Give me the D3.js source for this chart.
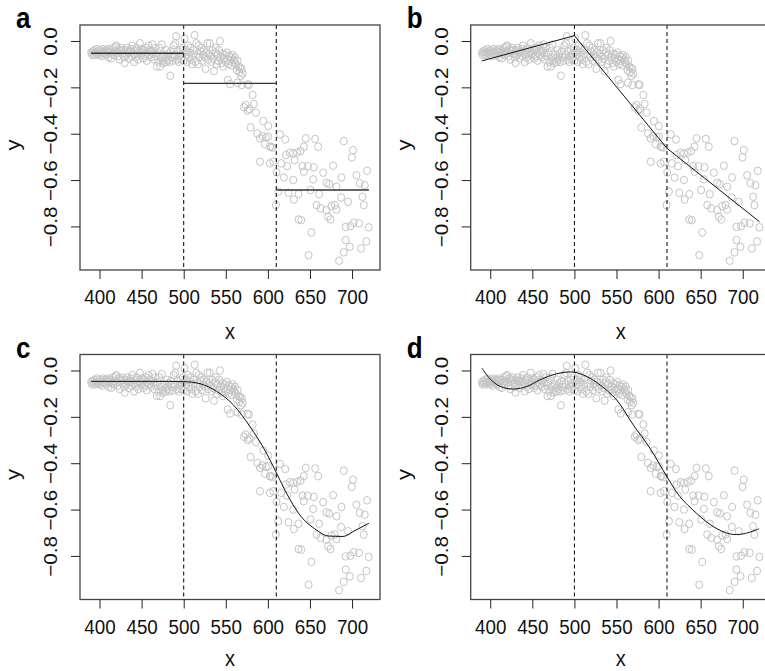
<!DOCTYPE html>
<html><head><meta charset="utf-8">
<script src="https://cdn.jsdelivr.net/npm/d3@7/dist/d3.min.js"></script>
<style>body{margin:0;background:#fff}svg{display:block}</style>
</head><body>
<svg id="chart" width="765" height="671"></svg>
<script>
// ---------- data ----------
const xTicks = [400, 450, 500, 550, 600, 650, 700];
const yTicks = [0, -0.2, -0.4, -0.6, -0.8];
const breakpoints = [500, 610];
const panelLabels = ["a", "b", "c", "d"];

const obsX = [
390,391,392,393,394,395,396,397,398,399,400,401,402,403,404,405,406,407,408,409,
410,411,412,413,414,415,416,417,418,419,420,421,422,423,424,425,426,427,428,429,
430,431,432,433,434,435,436,437,438,439,440,441,442,443,444,445,446,447,448,449,
450,451,452,453,454,455,456,457,458,459,460,461,462,463,464,465,466,467,468,469,
470,471,472,473,474,475,476,477,478,479,480,481,482,483,484,485,486,487,488,489,
490,491,492,493,494,495,496,497,498,499,500,
501,502,503,504,505,506,507,508,509,510,511,512,513,514,515,516,517,518,519,520,
521,522,523,524,525,526,527,528,529,530,531,532,533,534,535,536,537,538,539,540,
541,542,543,544,545,546,547,548,549,550,551,552,553,554,555,556,557,558,559,560,
561,562,563,564,565,566,567,568,569,570,
552.2,555.0,563.7,568.8,575.9,577.5,581.9,571.6,573.6,576.0,578.0,583.4,585.8,579.5,
594.5,600.4,587.4,590.6,593.7,597.7,600.4,602.4,596.5,590.6,603.6,605.6,602.4,606.4,
614.3,620.6,645.1,656.2,690.2,659.7,642.7,701.2,699.7,621.4,626.1,630.1,634.8,638.8,
615.9,623.0,631.7,641.2,647.5,654.6,677.5,665.7,610.3,619.0,630.1,642.7,653.8,669.6,
672.8,681.5,687.4,705.2,709.1,715.1,717.8,712.3,713.9,612.3,624.5,630.9,636.4,650.6,
660.9,657.8,662.5,669.6,675.5,679.5,681.5,671.6,674.4,687.0,695.3,609.5,636.4,639.6,
651.8,692.5,698.1,702.0,708.3,719.8,692.5,697.3,690.2,710.7,717.0,648.3,684.6
];
const obsY = [
-0.05,-0.06,-0.045,-0.055,-0.04,-0.06,-0.05,-0.035,-0.055,-0.045,-0.06,-0.04,-0.05,-0.065,-0.035,-0.05,-0.055,-0.04,-0.06,-0.045,
-0.035,-0.07,-0.05,-0.04,-0.075,-0.055,-0.03,-0.06,-0.045,-0.025,-0.02,-0.05,-0.065,-0.035,-0.08,-0.045,-0.03,-0.055,-0.04,-0.07,
-0.095,-0.04,-0.06,-0.03,-0.05,-0.075,-0.045,-0.035,-0.065,-0.02,-0.055,-0.09,-0.04,-0.07,-0.03,-0.055,-0.08,-0.045,-0.01,-0.06,
-0.035,-0.05,-0.075,-0.04,-0.065,-0.03,-0.085,-0.05,-0.02,-0.06,-0.04,-0.07,-0.045,-0.015,-0.055,-0.08,-0.03,-0.065,-0.11,-0.05,
-0.09,-0.03,-0.11,-0.07,-0.015,-0.085,-0.095,-0.06,-0.075,-0.09,-0.04,-0.08,-0.055,-0.09,-0.15,-0.045,-0.07,-0.085,-0.02,-0.06,
-0.01,0.02,-0.08,-0.045,-0.09,-0.065,-0.04,-0.08,-0.055,-0.03,-0.085,
0.01,-0.06,-0.04,-0.09,-0.02,-0.07,-0.05,-0.03,-0.08,-0.1,-0.06,-0.04,0.025,-0.09,-0.01,-0.055,-0.1,-0.02,-0.07,-0.045,
-0.03,-0.085,-0.06,-0.04,-0.07,-0.12,-0.05,-0.01,-0.08,-0.055,-0.01,-0.065,-0.09,-0.04,-0.075,-0.13,-0.05,-0.03,-0.1,-0.06,
-0.085,-0.04,0.0,-0.07,-0.095,-0.055,-0.11,-0.075,-0.06,-0.09,-0.05,-0.08,-0.1,-0.065,-0.085,-0.07,-0.105,-0.06,-0.08,-0.09,
-0.07,-0.1,-0.125,-0.085,-0.11,-0.135,-0.115,-0.15,-0.12,-0.14,
-0.168,-0.186,-0.180,-0.190,-0.187,-0.190,-0.233,-0.286,-0.276,-0.300,-0.293,-0.272,-0.309,-0.373,
-0.345,-0.367,-0.399,-0.420,-0.410,-0.416,-0.413,-0.456,-0.445,-0.521,-0.456,-0.460,-0.528,-0.521,
-0.403,-0.425,-0.420,-0.423,-0.432,-0.456,-0.456,-0.471,-0.502,-0.492,-0.482,-0.485,-0.481,-0.475,
-0.528,-0.540,-0.514,-0.540,-0.540,-0.545,-0.538,-0.568,-0.567,-0.589,-0.600,-0.564,-0.597,-0.612,
-0.617,-0.629,-0.589,-0.579,-0.614,-0.622,-0.560,-0.672,-0.708,-0.650,-0.655,-0.684,-0.661,-0.643,
-0.661,-0.708,-0.722,-0.730,-0.712,-0.708,-0.727,-0.758,-0.770,-0.675,-0.694,-0.708,-0.770,-0.773,
-0.826,-0.802,-0.799,-0.784,-0.787,-0.804,-0.859,-0.888,-0.912,-0.895,-0.865,-0.924,-0.948
];

// (a) piecewise constant fit
const stepStart = [390, 500, 610];
const stepEnd   = [500, 610, 720];
const stepLevel = [-0.053, -0.183, -0.643];
// (b) piecewise linear fit
const linX = [390, 500, 610, 720];
const linY = [-0.086, 0.023, -0.463, -0.780];
// (c) smooth spline fit
const splCX = [390, 420, 450, 480, 500, 519.4, 539.1, 558.9, 578.7, 598.4, 610.3, 622.1, 637.9, 657.7, 671.5, 689.4, 701.2, 720];
const splCY = [-0.047, -0.047, -0.047, -0.047, -0.048, -0.057, -0.090, -0.148, -0.242, -0.357, -0.443, -0.529, -0.623, -0.688, -0.714, -0.716, -0.695, -0.659];
// (d) smooth polynomial fit
const splDX = [390.2, 400, 411.9, 427.7, 443.5, 459.3, 479.1, 498.8, 514.6, 530.4, 550.2, 570.0, 589.7, 609.9, 625.3, 645.1, 664.8, 684.6, 700.4, 719.4];
const splDY = [0.010, -0.037, -0.069, -0.080, -0.069, -0.040, -0.014, -0.007, -0.026, -0.062, -0.127, -0.235, -0.335, -0.458, -0.544, -0.616, -0.673, -0.705, -0.705, -0.683];

// ---------- drawing ----------
const svg = d3.select("#chart");
const W = 300, H = 245;
const origins = [[80, 25], [470.7, 25], [80, 354.5], [470.7, 354.5]];
const titleGap = [69, 69, 66.5, 66.5];
const fmtY = t => t === 0 ? "0.0" : "\u2212" + Math.abs(t).toFixed(1);
const font = "'Liberation Sans', Arial, Helvetica, sans-serif";
const SY = 1.1; // vertical stretch of the reference figure

origins.forEach(([x0, y0], i) => {
  const g = svg.append("g");
  const x = d3.scaleLinear().domain([376.8, 733.2]).range([x0, x0 + W]);
  const y = d3.scaleLinear().domain([-0.988, 0.069]).range([y0 + H, y0]);

  // points
  g.append("g").selectAll("ellipse").data(obsX).join("ellipse")
    .attr("cx", d => x(d)).attr("cy", (d, j) => y(obsY[j])).attr("rx", 3.5).attr("ry", 3.8)
    .attr("fill", "none").attr("stroke", "#c4c4c4").attr("stroke-width", 1);

  // dashed lines
  g.append("g").selectAll("line").data(breakpoints).join("line")
    .attr("x1", d => x(d)).attr("x2", d => x(d)).attr("y1", y0).attr("y2", y0 + H)
    .attr("stroke", "#000").attr("stroke-width", 1).attr("stroke-dasharray", "4,3");

  // fits
  if (i === 0) {
    g.append("g").selectAll("line").data(stepLevel).join("line")
      .attr("x1", (d, j) => x(stepStart[j])).attr("x2", (d, j) => x(stepEnd[j]))
      .attr("y1", d => y(d)).attr("y2", d => y(d))
      .attr("stroke", "#333").attr("stroke-width", 1.4);
  } else {
    let xs, ys, curve;
    if (i === 1) { xs = linX; ys = linY; curve = d3.curveLinear; }
    else if (i === 2) { xs = splCX; ys = splCY; curve = d3.curveMonotoneX; }
    else { xs = splDX; ys = splDY; curve = d3.curveCatmullRom; }
    const line = d3.line().x(d => x(d)).y((d, j) => y(ys[j])).curve(curve);
    g.append("path").attr("d", line(xs)).attr("fill", "none")
      .attr("stroke", "#111").attr("stroke-width", 1);
  }

  // box
  g.append("rect").attr("x", x0).attr("y", y0).attr("width", W).attr("height", H)
    .attr("fill", "none").attr("stroke", "#444").attr("stroke-width", 1.3);

  // x axis (ticks via d3 axis, labels custom)
  const xa = g.append("g").attr("transform", `translate(0,${y0 + H})`)
    .call(d3.axisBottom(x).tickValues(xTicks).tickSize(9).tickFormat(""));
  xa.select(".domain").remove();
  xa.selectAll("line").attr("stroke", "#222");
  xa.selectAll(".tick").append("text")
    .attr("transform", `translate(0,34) scale(1,${SY})`)
    .attr("text-anchor", "middle").attr("font-family", font).attr("font-size", 18.8)
    .attr("fill", "#111").text(d => d3.format("d")(d));

  // y axis
  const ya = g.append("g").attr("transform", `translate(${x0},0)`)
    .call(d3.axisLeft(y).tickValues(yTicks).tickSize(9).tickFormat(""));
  ya.select(".domain").remove();
  ya.selectAll("line").attr("stroke", "#222");
  ya.selectAll(".tick").append("text")
    .attr("transform", `translate(-23,0) rotate(-90) scale(${SY},1)`)
    .attr("text-anchor", "middle")
    .attr("font-family", font).attr("font-size", 18.8).attr("fill", "#111")
    .text(d => fmtY(d));

  // titles
  g.append("text").attr("transform", `translate(${x0 + W / 2},${y0 + H + titleGap[i]}) scale(1,${SY})`)
    .attr("text-anchor", "middle").attr("font-family", font).attr("font-size", 20)
    .attr("fill", "#111").text("x");
  g.append("text").attr("transform", `translate(${x0 - 60},${y0 + 120}) rotate(-90) scale(${SY},1)`)
    .attr("text-anchor", "middle").attr("font-family", font).attr("font-size", 20)
    .attr("fill", "#111").text("y");
  g.append("text").attr("transform", `translate(${x0 - 64},${y0 + 3}) scale(1,${SY})`)
    .attr("font-family", font).attr("font-size", 26).attr("font-weight", "bold")
    .attr("fill", "#000").text(panelLabels[i]);
});
</script>
</body></html>
